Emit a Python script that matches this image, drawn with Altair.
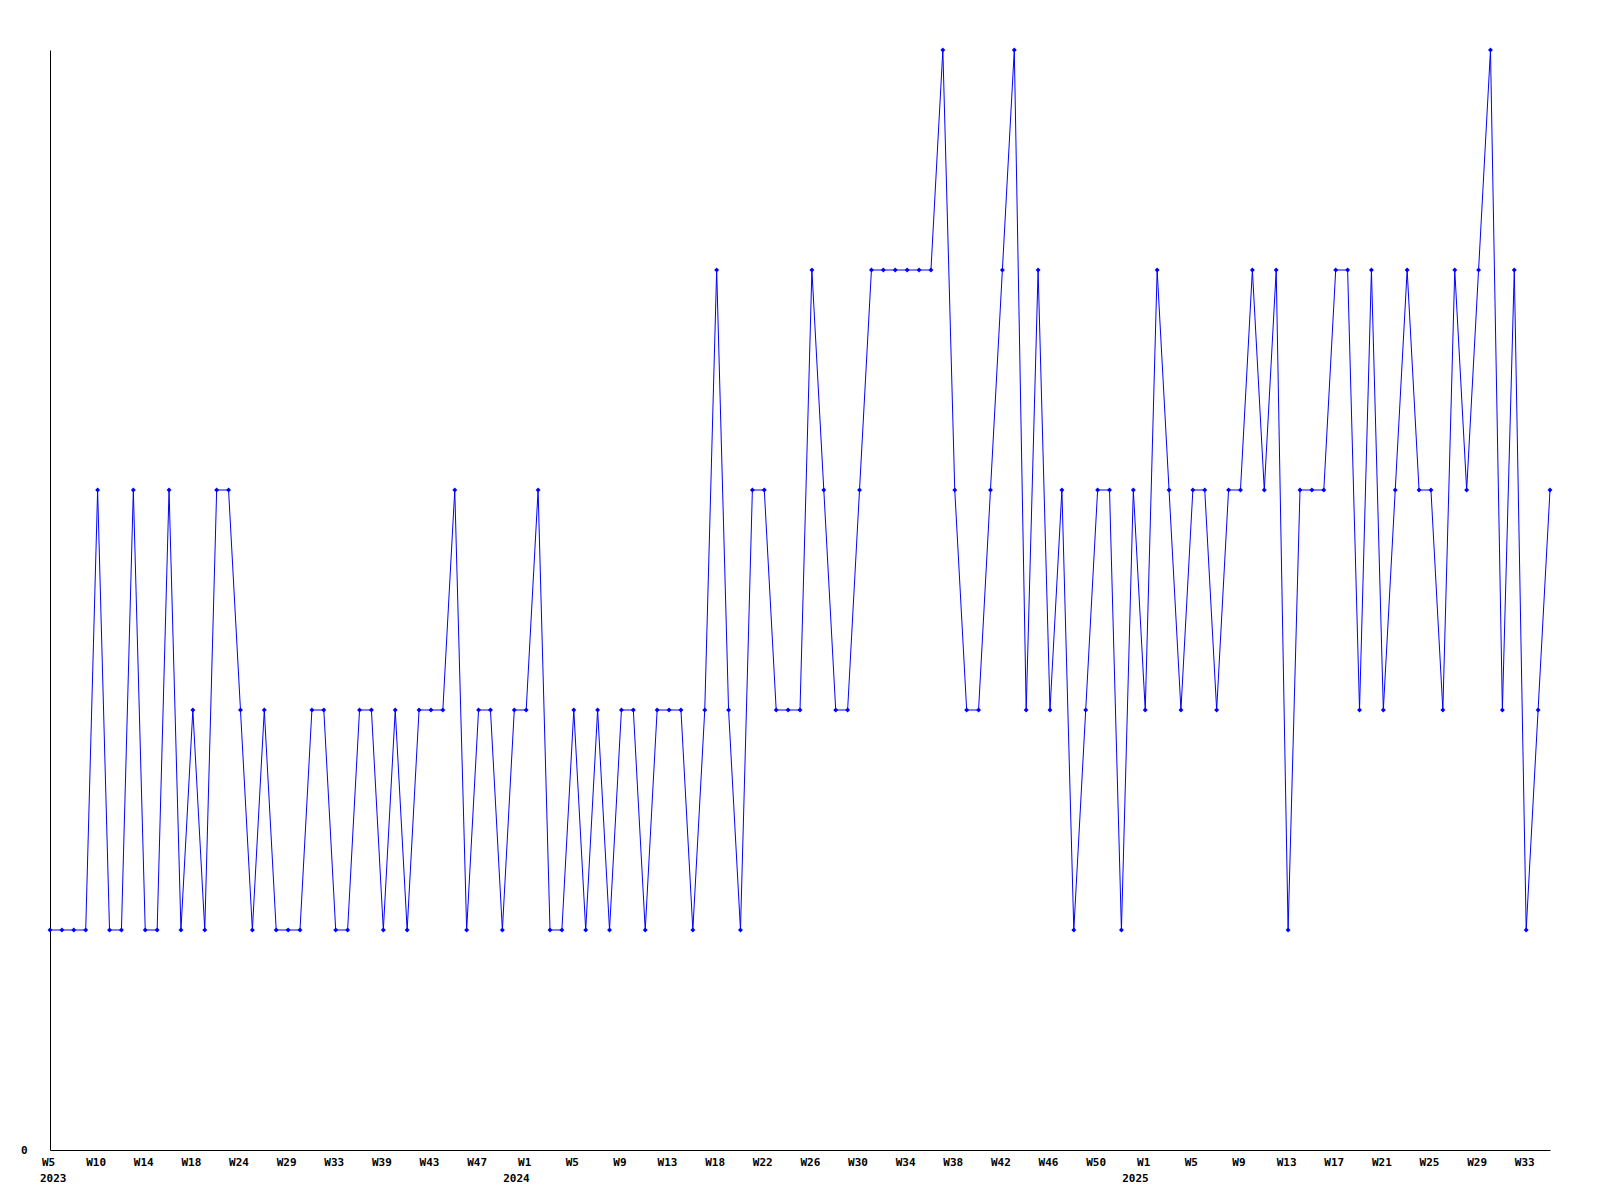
import altair as alt
import pandas as pd

# weekly values, 2023 W5 .. 2025 W35 (127 points)
values = [
    1, 1, 1, 1, 3, 1, 1, 3, 1, 1,
    3, 1, 2, 1, 3, 3, 2, 1, 2, 1,
    1, 1, 2, 2, 1, 1, 2, 2, 1, 2,
    1, 2, 2, 2, 3, 1, 2, 2, 1, 2,
    2, 3, 1, 1, 2, 1, 2, 1, 2, 2,
    1, 2, 2, 2, 1, 2, 4, 2, 1, 3,
    3, 2, 2, 2, 4, 3, 2, 2, 3, 4,
    4, 4, 4, 4, 4, 5, 3, 2, 2, 3,
    4, 5, 2, 4, 2, 3, 1, 2, 3, 3,
    1, 3, 2, 4, 3, 2, 3, 3, 2, 3,
    3, 4, 3, 4, 1, 3, 3, 3, 4, 4,
    2, 4, 2, 3, 4, 3, 3, 2, 4, 3,
    4, 5, 2, 4, 1, 2, 3,
]

# tick labels, one every 4 points
tick_labels = [
    "W5", "W10", "W14", "W18", "W24", "W29", "W33", "W39", "W43", "W47",
    "W1", "W5", "W9", "W13", "W18", "W22", "W26", "W30", "W34", "W38",
    "W42", "W46", "W50",
    "W1", "W5", "W9", "W13", "W17", "W21", "W25", "W29", "W33",
]

year_index = [0, 40, 92]
year_labels = ["2023", "2024", "2025"]

df = pd.DataFrame({"i": list(range(len(values))), "v": values})
years = pd.DataFrame({"i": year_index, "year": year_labels})

arr = "[" + ",".join("'" + t + "'" for t in tick_labels) + "]"
label_expr = arr + "[round(datum.value / 4)]"

FONT = "DejaVu Sans Mono"

x_scale = alt.Scale(domain=[0, len(values) - 1], nice=False, zero=False)
y_scale = alt.Scale(domain=[0, 5], nice=False, zero=True)

x_axis = alt.Axis(
    values=[k * 4 for k in range(len(tick_labels))],
    labelExpr=label_expr,
    title=None,
    grid=False,
    ticks=False,
    domainColor="black",
    domainWidth=1,
    labelFont=FONT,
    labelFontWeight="bold",
    labelFontSize=11,
    labelColor="black",
    labelPadding=6,
    labelOffset=-2,
    labelBaseline="top",
    labelAlign="center",
    labelOverlap=False,
    labelFlush=False,
)
y_axis = alt.Axis(
    values=[0],
    labelExpr="'0'",
    title=None,
    grid=False,
    ticks=False,
    domainColor="black",
    domainWidth=1,
    labelFont=FONT,
    labelFontWeight="bold",
    labelFontSize=11,
    labelColor="black",
    labelPadding=23,
    labelBaseline="middle",
)

base = alt.Chart(df)

line = base.mark_line(color="#0000FF", strokeWidth=1).encode(
    x=alt.X("i:Q", scale=x_scale, axis=x_axis),
    y=alt.Y("v:Q", scale=y_scale, axis=y_axis),
)

points = base.mark_point(
    shape="diamond", filled=True, color="#0000FF", size=24, opacity=1
).encode(
    x=alt.X("i:Q", scale=x_scale),
    y=alt.Y("v:Q", scale=y_scale),
)

year_base = alt.Chart(years)
text_style = dict(
    font=FONT, fontWeight="bold", fontSize=11, color="black",
    align="left", baseline="top",
)
year_first = year_base.transform_filter("datum.i == 0").mark_text(
    dx=-10, **text_style
).encode(
    x=alt.X("i:Q", scale=x_scale),
    y=alt.value(1100 + 23),
    text="year:N",
)
year_rest = year_base.transform_filter("datum.i > 0").mark_text(
    dx=-23, **text_style
).encode(
    x=alt.X("i:Q", scale=x_scale),
    y=alt.value(1100 + 23),
    text="year:N",
)

chart = (
    alt.layer(line, points, year_first, year_rest)
    .properties(
        width=1500,
        height=1100,
        autosize=alt.AutoSizeParams(type="none"),
        padding={"left": 42, "top": 42, "right": 42, "bottom": 50},
        background="white",
    )
    .configure_view(stroke=None)
)

chart.save("out.html", embed_options={"renderer": "svg", "actions": False})
